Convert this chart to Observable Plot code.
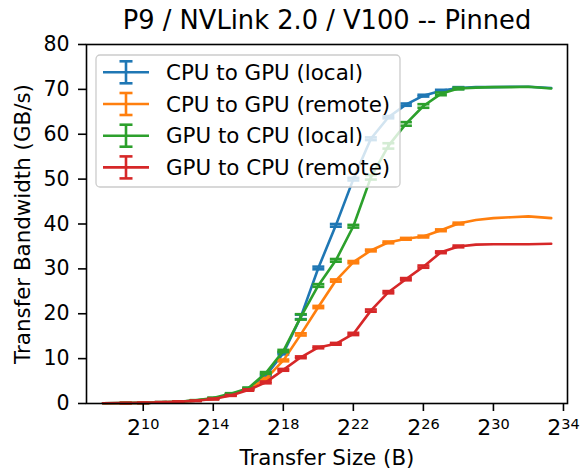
<!DOCTYPE html>
<html>
<head>
<meta charset="utf-8">
<script src="https://cdn.jsdelivr.net/npm/d3@7"></script>
<script src="https://cdn.jsdelivr.net/npm/@observablehq/plot@0.6"></script>
<style>
  body { margin: 0; background: #fff; }
  #chart { position: relative; width: 581px; height: 469px; }
</style>
</head>
<body>
<div id="chart"></div>
<script>
// ---- data (transfer size exponents, bandwidth in GB/s) ----
const exponents = [7.7, 9, 10, 11, 12, 13, 14, 15, 16, 17, 18, 19, 20, 21, 22, 23, 24, 25, 26, 27, 28, 29, 30, 31, 32, 33.3];
const seriesNames = ["CPU to GPU (local)", "CPU to GPU (remote)", "GPU to CPU (local)", "GPU to CPU (remote)"];
const seriesColors = ["#1f77b4", "#ff7f0e", "#2ca02c", "#d62728"];
const cpuToGpuLocal  = [0.05, 0.1, 0.15, 0.25, 0.4, 0.65, 1.1, 2.0, 3.3, 6.2, 11.2, 19.3, 30.2, 39.7, 50.0, 59.0, 63.8, 66.6, 68.6, 69.7, 70.3, 70.5, 70.5, 70.6, 70.6, 70.3];
const cpuToGpuRemote = [0.05, 0.1, 0.15, 0.25, 0.4, 0.65, 1.1, 1.9, 3.2, 5.5, 9.6, 15.4, 21.5, 27.4, 31.5, 34.1, 35.9, 36.7, 37.2, 38.6, 40.1, 40.9, 41.3, 41.5, 41.7, 41.3];
const gpuToCpuLocal  = [0.05, 0.1, 0.15, 0.25, 0.4, 0.7, 1.2, 2.2, 3.4, 6.8, 11.7, 19.3, 26.3, 31.9, 39.5, 50.4, 57.4, 62.3, 66.3, 69.0, 70.2, 70.4, 70.5, 70.5, 70.6, 70.2];
const gpuToCpuRemote = [0.05, 0.1, 0.15, 0.25, 0.4, 0.6, 1.0, 1.8, 3.0, 4.7, 7.5, 10.3, 12.5, 13.3, 15.5, 20.7, 24.8, 27.7, 30.5, 33.7, 35.0, 35.4, 35.5, 35.5, 35.5, 35.6];
// error (std) per point; null = no error bar drawn
const cpuToGpuLocalErr  = [null, 0.05, 0.05, 0.05, 0.05, 0.05, 0.1, 0.1, 0.15, 0.2, 0.25, 0.5, 0.3, 0.3, 0.3, 0.3, 0.25, 0.25, 0.2, 0.2, 0.2, null, null, null, null, null];
const cpuToGpuRemoteErr = [null, 0.05, 0.05, 0.05, 0.05, 0.05, 0.1, 0.1, 0.15, 0.2, 0.2, 0.25, 0.25, 0.25, 0.25, 0.2, 0.2, 0.2, 0.2, 0.2, 0.2, null, null, null, null, null];
const gpuToCpuLocalErr  = [null, 0.05, 0.05, 0.05, 0.05, 0.05, 0.1, 0.1, 0.15, 0.2, 0.25, 0.6, 0.3, 0.3, 0.3, 0.5, 0.6, 0.4, 0.4, 0.3, 0.2, null, null, null, null, null];
const gpuToCpuRemoteErr = [null, 0.05, 0.05, 0.05, 0.05, 0.05, 0.1, 0.1, 0.15, 0.2, 0.2, 0.2, 0.2, 0.2, 0.25, 0.25, 0.25, 0.25, 0.25, 0.2, 0.2, null, null, null, null, null];
const xTickExponents = [10, 14, 18, 22, 26, 30, 34];
const yTicks = [0, 10, 20, 30, 40, 50, 60, 70, 80];
const titleText = "P9 / NVLink 2.0 / V100 -- Pinned";
const xLabel = "Transfer Size (B)";
const yLabel = "Transfer Bandwidth (GB/s)";

const values = [cpuToGpuLocal, cpuToGpuRemote, gpuToCpuLocal, gpuToCpuRemote];
const errors = [cpuToGpuLocalErr, cpuToGpuRemoteErr, gpuToCpuLocalErr, gpuToCpuRemoteErr];

const FONT = "DejaVu Sans";
const LW = 2.6;

// custom horizontal cap symbol
const capSymbol = {
  draw(ctx, size) {
    const r = Math.sqrt(size / Math.PI);
    ctx.moveTo(-r, 0);
    ctx.lineTo(r, 0);
  }
};

const marks = [];
seriesNames.forEach((name, i) => {
  const rows = exponents.map((e, j) => ({x: 2 ** e, y: values[i][j], err: errors[i][j]}));
  const errRows = rows.filter(d => d.err != null);
  const caps = errRows.flatMap(d => [{x: d.x, y: d.y - d.err}, {x: d.x, y: d.y + d.err}]);
  marks.push(Plot.line(rows, {x: "x", y: "y", stroke: seriesColors[i], strokeWidth: LW}));
  marks.push(Plot.ruleX(errRows, {x: "x", y1: d => d.y - d.err, y2: d => d.y + d.err, stroke: seriesColors[i], strokeWidth: LW}));
  marks.push(Plot.dot(caps, {x: "x", y: "y", symbol: capSymbol, r: 6, stroke: seriesColors[i], strokeWidth: LW, fill: "none"}));
});

const chart = Plot.plot({
  width: 581,
  height: 469,
  marginLeft: 86,
  marginRight: 14,
  marginTop: 44,
  marginBottom: 66,
  style: {fontFamily: FONT, fontSize: "21px", color: "black", background: "white", overflow: "visible"},
  x: {type: "log", base: 2, domain: [2 ** 6.76, 2 ** 34.23]},
  y: {domain: [0, 80]},
  marks: [
    ...marks,
    Plot.frame({stroke: "black", strokeWidth: 1.6}),
    Plot.axisY({ticks: yTicks, tickSize: 8, tickPadding: 9, strokeWidth: 1.6, fontSize: 20.5, label: null, tickFormat: d => String(d)}),
    Plot.axisX({ticks: xTickExponents.map(e => 2 ** e), tickSize: 8, tickPadding: 8, strokeWidth: 1.6, fontSize: 22, label: null,
                tickFormat: d => String(Math.round(Math.log2(d)))}),
    Plot.text([titleText], {frameAnchor: "top", lineAnchor: "bottom", dy: -16, fontSize: 25.7, fill: "black"}),
    Plot.text([xLabel], {frameAnchor: "bottom", lineAnchor: "middle", dy: 55, fontSize: 21.4, fill: "black"}),
    Plot.text([yLabel], {frameAnchor: "left", textAnchor: "middle", rotate: -90, dx: -63, lineAnchor: "middle", fontSize: 21.4, fill: "black"})
  ]
});

document.getElementById("chart").appendChild(chart);

// superscript exponents on x tick labels: 2^n
const svg = d3.select(chart);
svg.selectAll('g[aria-label="x-axis tick label"] text').each(function () {
  const exp = this.textContent;
  const t = d3.select(this);
  t.text(null);
  t.append("tspan").text("2");
  t.append("tspan").attr("dy", "-0.42em").attr("font-size", "0.66em").text(exp);
});

// legend (inside axes, upper left)
const lg = svg.append("g").attr("font-family", FONT).attr("font-size", 21.4).attr("text-anchor", "start");
lg.append("rect").attr("x", 96).attr("y", 55).attr("width", 304).attr("height", 132)
  .attr("rx", 4).attr("fill", "white").attr("fill-opacity", 0.8)
  .attr("stroke", "#cccccc").attr("stroke-width", 1.3);
seriesNames.forEach((name, i) => {
  const cy = 72.3 + i * 31.7;
  const c = seriesColors[i];
  const g = lg.append("g").attr("stroke", c).attr("stroke-width", LW);
  g.append("line").attr("x1", 103).attr("x2", 149).attr("y1", cy).attr("y2", cy);
  g.append("line").attr("x1", 126).attr("x2", 126).attr("y1", cy - 11).attr("y2", cy + 11);
  g.append("line").attr("x1", 119.5).attr("x2", 132.5).attr("y1", cy - 11).attr("y2", cy - 11);
  g.append("line").attr("x1", 119.5).attr("x2", 132.5).attr("y1", cy + 11).attr("y2", cy + 11);
  lg.append("text").attr("x", 166).attr("y", cy).attr("dy", "0.36em").attr("text-anchor", "start").attr("fill", "black").text(name);
});
</script>
</body>
</html>
